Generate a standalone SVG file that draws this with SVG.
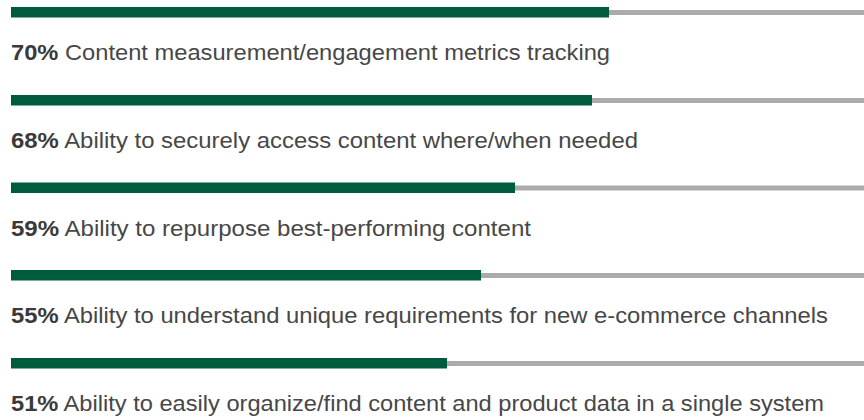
<svg xmlns="http://www.w3.org/2000/svg" width="864" height="420" viewBox="0 0 864 420">
<style>
.track{fill:#ababab}
.bar{fill:#005a3e}
.lbl{font-family:"Liberation Sans",Arial,sans-serif;font-size:22px;fill:#474747}
.pct{font-weight:bold;fill:#3a3a3a}
</style>
<rect width="864" height="420" fill="#ffffff"/>
<g id="row1">
<rect class="track" x="609" y="10" width="255" height="5"/>
<rect class="bar" x="11" y="7" width="598" height="10.5"/>
<text class="lbl" x="11" y="60" textLength="599" lengthAdjust="spacingAndGlyphs"><tspan class="pct">70%</tspan> Content measurement/engagement metrics tracking</text>
</g>
<g id="row2">
<rect class="track" x="592" y="98" width="272" height="5"/>
<rect class="bar" x="11" y="95" width="581" height="10.5"/>
<text class="lbl" x="11" y="148" textLength="627" lengthAdjust="spacingAndGlyphs"><tspan class="pct">68%</tspan> Ability to securely access content where/when needed</text>
</g>
<g id="row3">
<rect class="track" x="515" y="185.5" width="349" height="5"/>
<rect class="bar" x="11" y="182.5" width="504" height="10.5"/>
<text class="lbl" x="11" y="235.5" textLength="520" lengthAdjust="spacingAndGlyphs"><tspan class="pct">59%</tspan> Ability to repurpose best-performing content</text>
</g>
<g id="row4">
<rect class="track" x="481" y="273" width="383" height="5"/>
<rect class="bar" x="11" y="270" width="470" height="10.5"/>
<text class="lbl" x="11" y="323" textLength="817" lengthAdjust="spacingAndGlyphs"><tspan class="pct">55%</tspan> Ability to understand unique requirements for new e-commerce channels</text>
</g>
<g id="row5">
<rect class="track" x="447" y="361" width="417" height="5"/>
<rect class="bar" x="11" y="358" width="436" height="10.5"/>
<text class="lbl" x="11" y="411" textLength="813" lengthAdjust="spacingAndGlyphs"><tspan class="pct">51%</tspan> Ability to easily organize/find content and product data in a single system</text>
</g>
</svg>
